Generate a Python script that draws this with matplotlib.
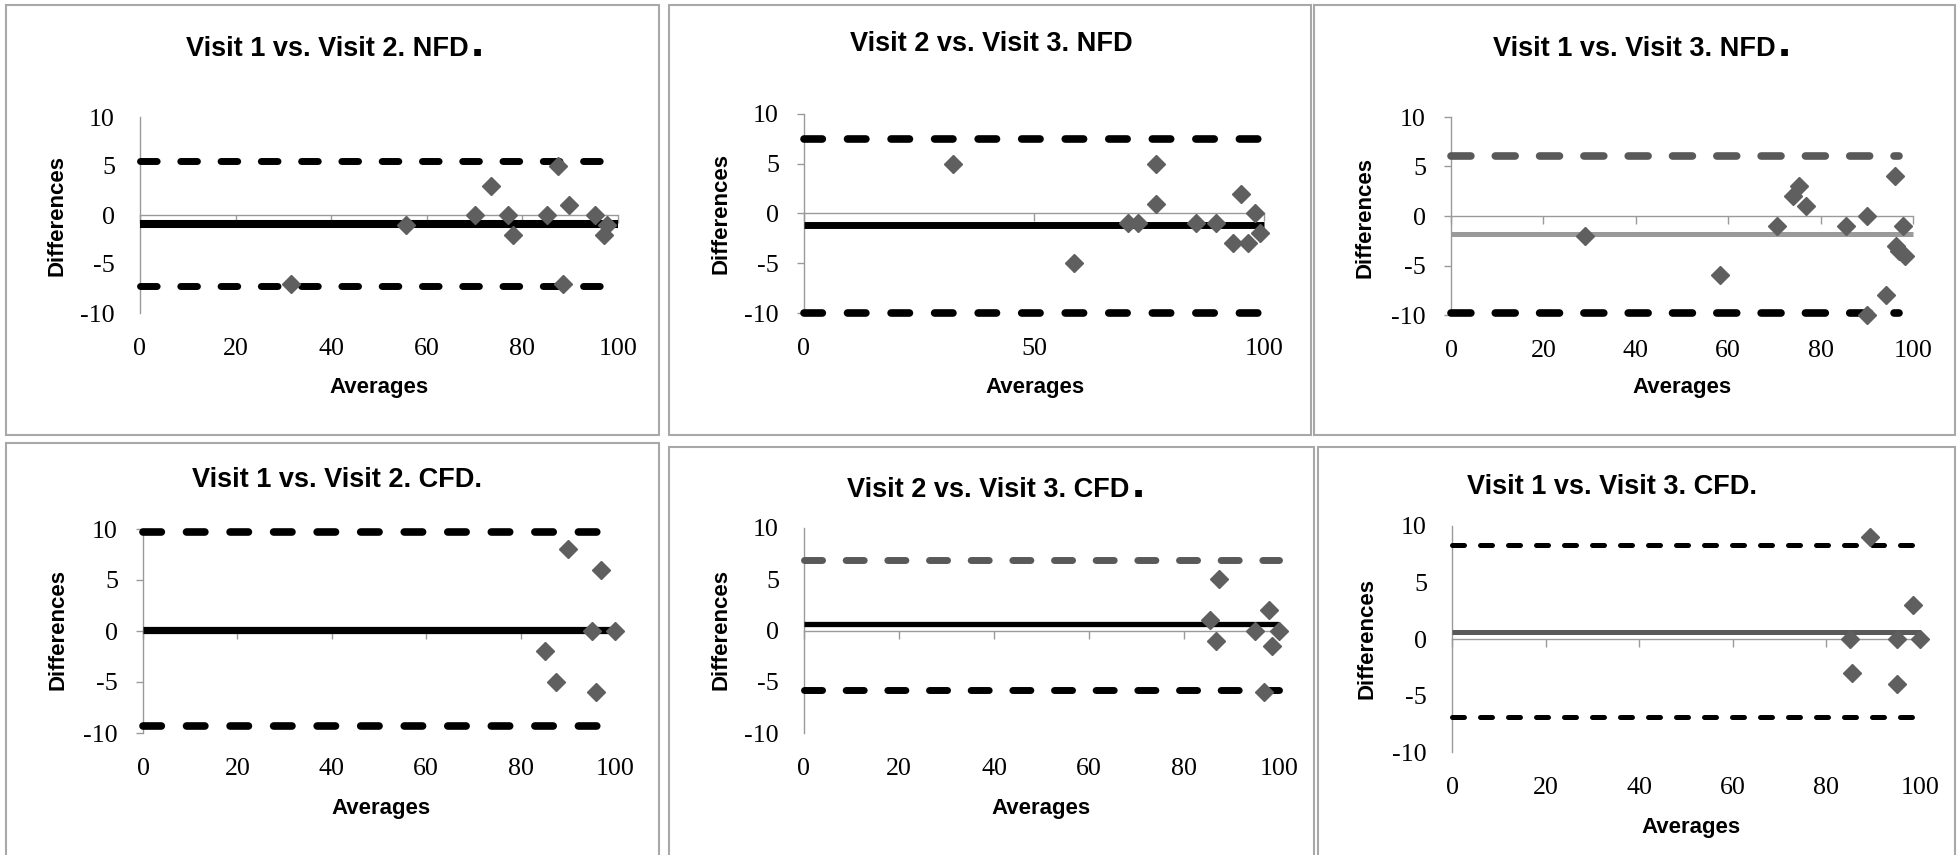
"""
Bland-Altman plots, visit-to-visit agreement for NFD and CFD.
"""

import matplotlib
matplotlib.use('Agg')
import matplotlib.pyplot as plt
from matplotlib.patches import Rectangle

# ---- data -------------------------------------------------------------
titles = ['Visit 1 vs. Visit 2. NFD.', 'Visit 2 vs. Visit 3. NFD',
          'Visit 1 vs. Visit 3. NFD.', 'Visit 1 vs. Visit 2. CFD.',
          'Visit 2 vs. Visit 3. CFD.', 'Visit 1 vs. Visit 3. CFD.']

v1v2_nfd_avg = [31.5, 55.6, 70.1, 73.5, 77.0, 78.1, 85.2, 87.5, 88.5,
                89.7, 95.1, 97.1, 97.8]
v1v2_nfd_diff = [-7, -1, 0, 3, 0, -2, 0, 5, -7, 1, 0, -2, -1]

v2v3_nfd_avg = [32.4, 58.8, 70.5, 72.5, 76.6, 76.6, 85.3, 89.5, 93.3,
                95.0, 96.5, 98.0, 99.1]
v2v3_nfd_diff = [5, -5, -1, -1, 5, 1, -1, -1, -3, 2, -3, 0, -2]

v1v3_nfd_avg = [29.0, 58.2, 70.5, 74.1, 75.4, 76.8, 85.5, 90.1, 90.1,
                94.2, 96.0, 96.4, 97.0, 97.8, 98.2]
v1v3_nfd_diff = [-2, -6, -1, 2, 3, 1, -1, 0, -10, -8, 4, -3, -3.5, -1, -4]

v1v2_cfd_avg = [85.1, 87.6, 90.0, 95.1, 96.0, 97.1, 100.0]
v1v2_cfd_diff = [-2, -5, 8, 0, -6, 6, 0]

v2v3_cfd_avg = [85.4, 86.7, 87.4, 94.9, 96.9, 97.8, 98.5, 100.0]
v2v3_cfd_diff = [1, -1, 5, 0, -6, 2, -1.5, 0]

v1v3_cfd_avg = [85.0, 85.4, 89.4, 95.0, 95.0, 98.5, 100.0]
v1v3_cfd_diff = [0, -3, 9, 0, -4, 3, 0]

# mean difference and limits of agreement
mean_diff = [-0.9, -1.2, -1.8, 0.1, 0.6, 0.6]
upper_loa = [5.5, 7.5, 6.1, 9.7, 6.9, 8.3]
lower_loa = [-7.2, -10.0, -9.8, -9.3, -5.8, -6.9]
loa_end = [100, 100, 97, 100, 100, 98.5]

x_ticks = [[0, 20, 40, 60, 80, 100], [0, 50, 100], [0, 20, 40, 60, 80, 100],
           [0, 20, 40, 60, 80, 100], [0, 20, 40, 60, 80, 100],
           [0, 20, 40, 60, 80, 100]]
y_ticks = [-10, -5, 0, 5, 10]

averages = [v1v2_nfd_avg, v2v3_nfd_avg, v1v3_nfd_avg,
            v1v2_cfd_avg, v2v3_cfd_avg, v1v3_cfd_avg]
differences = [v1v2_nfd_diff, v2v3_nfd_diff, v1v3_nfd_diff,
               v1v2_cfd_diff, v2v3_cfd_diff, v1v3_cfd_diff]

# ---- layout (pixels in a 1960x855 canvas) ------------------------------
W, H = 1960, 855
boxes = [(6, 5, 659, 435), (669, 5, 1311, 435), (1314, 5, 1955, 435),
         (6, 443, 659, 860), (669, 447, 1314, 860), (1318, 447, 1955, 860)]
plot_areas = [(140, 117, 618, 313), (804, 114, 1264, 313),
              (1451, 117, 1913, 315), (143, 529, 615, 733),
              (804, 528, 1279, 733), (1452, 526, 1920, 752)]
# title centre x and baseline y
title_pos = [(332, 56), (991, 51), (1639, 56), (337, 487), (993, 497),
             (1612, 494)]
# the closing full stop of some titles is set as a heavy dot
big_dot = [True, False, True, False, True, False]
xlabel_pos = [(379, 388), (1035, 387), (1682, 388), (381, 808), (1041, 808),
              (1691, 827)]
ylabel_pos = [(57, 215), (721, 213), (1365, 217), (58, 630), (721, 630),
              (1367, 638)]

# per panel line styles: (mean colour, mean lw, upper colour, lower colour,
# dash lw, dash pattern, y tick length)
styles = [
    ('black', 5.8, 'black', 'black', 5.0, (2.4, 3.4), 0),
    ('black', 5.0, 'black', 'black', 5.5, (2.4, 3.3), 5),
    ('#9a9a9a', 3.6, '#595959', 'black', 5.5, (2.6, 3.2), 5),
    ('black', 5.2, 'black', 'black', 5.5, (2.4, 3.3), 5),
    ('black', 3.8, '#595959', 'black', 5.0, (2.6, 3.4), 0),
    ('#595959', 3.6, 'black', 'black', 3.6, (2.4, 3.2), 0),
]

SANS = ['Liberation Sans', 'DejaVu Sans']
SERIF = ['Liberation Serif', 'DejaVu Serif']
POINT_COLOR = '#5f5f5f'
AXIS_COLOR = '#9a9a9a'


def fx(px):
    return px / W


def fy(py):
    return 1 - py / H


def draw_panel(fig, i):
    bx0, by0, bx1, by1 = boxes[i]
    fig.add_artist(Rectangle((fx(bx0), fy(by1)), fx(bx1 - bx0),
                             (by1 - by0) / H, transform=fig.transFigure,
                             fill=False, edgecolor='#a8a8a8', lw=1.5))

    x0, y0, x1, y1 = plot_areas[i]
    ax = fig.add_axes([fx(x0), fy(y1), fx(x1 - x0), (y1 - y0) / H])
    ax.set_facecolor('none')
    ax.set_xlim(0, 100)
    ax.set_ylim(-10, 10)

    mcol, mlw, ucol, lcol, dlw, dash, ytl = styles[i]
    ax.plot([0, 100], [mean_diff[i], mean_diff[i]], color=mcol, lw=mlw,
            solid_capstyle='butt', zorder=3, clip_on=False)
    for val, col in ((upper_loa[i], ucol), (lower_loa[i], lcol)):
        ax.plot([0, loa_end[i]], [val, val], color=col, lw=dlw,
                dashes=dash, dash_capstyle='round', zorder=3, clip_on=False)
    ax.plot(averages[i], differences[i], linestyle='none', marker='D',
            markersize=9.3, color=POINT_COLOR, zorder=4, clip_on=False)

    for side in ('top', 'right'):
        ax.spines[side].set_visible(False)
    ax.spines['left'].set_color(AXIS_COLOR)
    ax.spines['left'].set_linewidth(1.0)
    ax.spines['bottom'].set_position(('data', 0))
    ax.spines['bottom'].set_color(AXIS_COLOR)
    ax.spines['bottom'].set_linewidth(1.0)
    ax.spines['bottom'].set_zorder(2)

    ax.set_xticks(x_ticks[i])
    ax.tick_params(axis='x', direction='out', length=6, width=1,
                   color=AXIS_COLOR, labelbottom=False)
    ax.set_yticks(y_ticks)
    ax.set_yticklabels([str(t) for t in y_ticks], family=SERIF, fontsize=18.7)
    ax.tick_params(axis='y', direction='out', length=ytl, width=1,
                   color=AXIS_COLOR, pad=18 - ytl)

    sec = ax.secondary_xaxis('bottom')
    sec.spines['bottom'].set_visible(False)
    sec.set_xticks(x_ticks[i])
    sec.set_xticklabels([str(t) for t in x_ticks[i]], family=SERIF,
                        fontsize=18.7)
    sec.tick_params(length=0, pad=18)

    tx, ty = title_pos[i]
    text = titles[i]
    if big_dot[i]:
        title = fig.text(fx(tx - 5), fy(ty), text[:-1], ha='center',
                         va='baseline', family=SANS, fontweight='bold',
                         fontsize=19.5)
        ax.annotate(text[-1], xy=(1.0, fy(ty)),
                    xycoords=(title, fig.transFigure),
                    xytext=(1.5, 0), textcoords='offset points',
                    ha='left', va='baseline', family=SANS,
                    fontweight='bold', fontsize=34, annotation_clip=False)
    else:
        fig.text(fx(tx), fy(ty), text, ha='center', va='baseline',
                 family=SANS, fontweight='bold', fontsize=19.5)

    lx, ly = xlabel_pos[i]
    fig.text(fx(lx), fy(ly), 'Averages', ha='center', va='center',
             family=SANS, fontweight='bold', fontsize=16)
    lx, ly = ylabel_pos[i]
    fig.text(fx(lx), fy(ly), 'Differences', ha='center', va='center',
             rotation=90, family=SANS, fontweight='bold', fontsize=16)
    return ax


def main():
    fig = plt.figure(figsize=(W / 100, H / 100), dpi=100)
    fig.patch.set_facecolor('white')
    for i in range(len(titles)):
        draw_panel(fig, i)
    fig.savefig('out.png', dpi=100)
    plt.close('all')


if __name__ == '__main__':
    main()
